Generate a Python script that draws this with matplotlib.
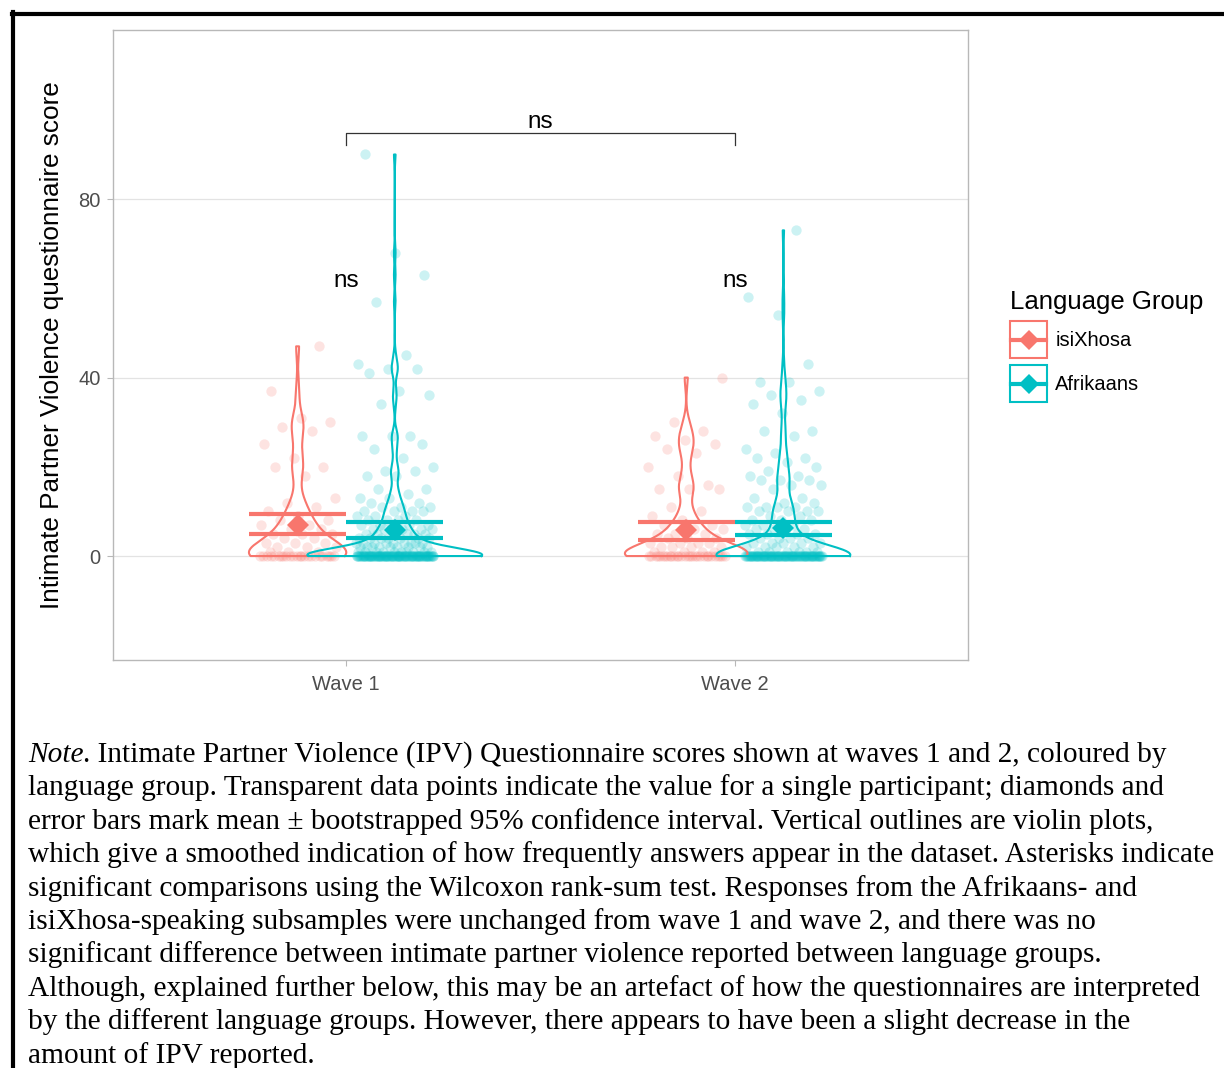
import numpy as np
import matplotlib
matplotlib.use("Agg")
import matplotlib.pyplot as plt
from matplotlib.patches import Rectangle
from matplotlib.lines import Line2D

plt.rcParams['font.family'] = ['Liberation Sans', 'DejaVu Sans']

# ---- data ----
waves = ["Wave 1", "Wave 2"]
groups = ["isiXhosa", "Afrikaans"]
colours = ["#F8766D", "#00BFC4"]

# individual IPV scores per group and wave
xho_w1 = ([0] * 24 + [1] * 3 + [2] * 3 + [3] * 3 + [4] * 2 + [5] * 3 + [6] * 2 + [7] * 2 + [8] * 2 + [9]
          + [10, 11, 12, 13, 18, 20, 20, 22, 25, 28, 29, 30, 31, 37, 47])
xho_w2 = ([0] * 30 + [1] * 4 + [2] * 4 + [3] * 4 + [4] * 3 + [5] * 3 + [6] * 2 + [7] * 2
          + [8, 9, 10, 11, 15, 15, 15, 16, 18, 20, 23, 24, 25, 26, 27, 28, 30, 40])
afr_w1 = ([0] * 95 + [1] * 10 + [2] * 9 + [3] * 9 + [4] * 7 + [5] * 6 + [6] * 6
          + [7] * 4 + [8] * 4 + [9] * 3 + [10] * 4 + [11] * 3
          + [12, 12, 13, 13, 14, 15, 15, 18, 18, 19, 19, 20, 22, 24, 25, 27, 27, 27,
             34, 36, 37, 41, 42, 42, 43, 45, 57, 63, 68, 90])
afr_w2 = ([0] * 88 + [1] * 6 + [2] * 5 + [3] * 5 + [4] * 4 + [5] * 4 + [6] * 4 + [7] * 3 + [8] * 3 + [9] * 2
          + [10, 10, 10, 10, 11, 11, 11, 11, 12, 12, 13, 13, 15, 16, 16, 17, 17, 17, 18, 18,
             19, 20, 21, 22, 22, 23, 24, 27, 28, 28, 32, 34, 35, 36, 37, 39, 39, 43, 54, 58, 73])

scores = {"isiXhosa": [xho_w1, xho_w2], "Afrikaans": [afr_w1, afr_w2]}

# mean and bootstrapped 95% CI
means = {"isiXhosa": [7.0, 5.8], "Afrikaans": [5.8, 6.2]}
ci_lo = {"isiXhosa": [4.9, 3.7], "Afrikaans": [4.1, 4.7]}
ci_hi = {"isiXhosa": [9.4, 7.7], "Afrikaans": [7.6, 7.7]}

caption = [
    ". Intimate Partner Violence (IPV) Questionnaire scores shown at waves 1 and 2, coloured by",
    "language group. Transparent data points indicate the value for a single participant; diamonds and",
    "error bars mark mean \u00b1 bootstrapped 95% confidence interval. Vertical outlines are violin plots,",
    "which give a smoothed indication of how frequently answers appear in the dataset. Asterisks indicate",
    "significant comparisons using the Wilcoxon rank-sum test. Responses from the Afrikaans- and",
    "isiXhosa-speaking subsamples were unchanged from wave 1 and wave 2, and there was no",
    "significant difference between intimate partner violence reported between language groups.",
    "Although, explained further below, this may be an artefact of how the questionnaires are interpreted",
    "by the different language groups. However, there appears to have been a slight decrease in the",
    "amount of IPV reported.",
]


def nrd0(x):
    # R's default bandwidth
    hi = x.std(ddof=1)
    q75, q25 = np.percentile(x, [75, 25])
    lo = min(hi, (q75 - q25) / 1.34)
    if lo == 0:
        lo = hi
    return 0.9 * lo * len(x) ** -0.2


def kde(x):
    x = np.asarray(x, float)
    bw = nrd0(x)
    yy = np.linspace(x.min(), x.max(), 512)
    d = np.exp(-0.5 * ((yy[:, None] - x[None, :]) / bw) ** 2).sum(1)
    d /= len(x) * bw * np.sqrt(2 * np.pi)
    return yy, d


class KeyHandler:
    # box + errorbar line + diamond, all centred in the key
    def legend_artist(self, legend, orig_handle, fontsize, handlebox):
        col = orig_handle.get_edgecolor()
        x0, y0 = -handlebox.xdescent, -handlebox.ydescent
        w, h = handlebox.width, handlebox.height
        box = Rectangle((x0, y0), w, h, facecolor='white', edgecolor=col, lw=1.5,
                        transform=handlebox.get_transform())
        ln = Line2D([x0 + 1, x0 + w - 1], [y0 + h / 2] * 2, color=col, lw=3,
                    transform=handlebox.get_transform())
        dm = Line2D([x0 + w / 2], [y0 + h / 2], marker='D', markersize=10, color=col,
                    markeredgewidth=0, transform=handlebox.get_transform())
        for a in (box, ln, dm):
            handlebox.add_artist(a)
        return box


W, H = 1224, 1068
fig = plt.figure(figsize=(W / 100, H / 100), dpi=100)
ax = fig.add_axes([113 / W, 1 - 660 / H, (968 - 113) / W, (660 - 30) / H])

dodge = {"isiXhosa": -0.125, "Afrikaans": 0.125}
dens = {(g, i): kde(scores[g][i]) for g in groups for i in range(2)}
dmax = max(d.max() for _, d in dens.values())

# jittered points
for g, col in zip(groups, colours):
    for i in range(2):
        v = np.asarray(scores[g][i], float)
        k = np.arange(len(v))
        jit = 0.1 * (2 * ((k * 0.618034 + 0.31) % 1) - 1)
        ax.scatter(i + 1 + dodge[g] + jit, v, s=55, color=col, alpha=0.2,
                   linewidths=0, zorder=2)

# violins
for g, col in zip(groups, colours):
    for i in range(2):
        yy, d = dens[(g, i)]
        hw = 0.225 * d / dmax
        c = i + 1 + dodge[g]
        xs = np.concatenate([c + hw, (c - hw)[::-1], [c + hw[0]]])
        ys = np.concatenate([yy, yy[::-1], [yy[0]]])
        ax.plot(xs, ys, color=col, lw=1.5, zorder=3)

# mean +/- CI
for g, col in zip(groups, colours):
    for i in range(2):
        c = i + 1 + dodge[g]
        ax.plot([c - 0.125, c + 0.125], [ci_lo[g][i]] * 2, color=col, lw=3, zorder=4,
                solid_capstyle='butt')
        ax.plot([c - 0.125, c + 0.125], [ci_hi[g][i]] * 2, color=col, lw=3, zorder=4,
                solid_capstyle='butt')
        ax.plot([c, c], [ci_lo[g][i], ci_hi[g][i]], color=col, lw=3, zorder=4)
        ax.plot(c, means[g][i], marker='D', markersize=11, color=col, zorder=5,
                markeredgewidth=0)

# significance annotations
ax.plot([1, 1, 2, 2], [92.1, 94.8, 94.8, 92.1], color='#333333', lw=0.9, zorder=6)
ax.text(1.5, 96.0, "ns", ha='center', va='baseline', fontsize=17.5)
for i in range(2):
    ax.text(i + 1, 60.3, "ns", ha='center', va='baseline', fontsize=17.5)

ax.set_xlim(0.4, 2.6)
ax.set_ylim(-23.3, 117.9)
ax.set_xticks([1, 2])
ax.set_xticklabels(waves)
ax.set_yticks([0, 40, 80])
ax.grid(axis='y', color='#E3E3E3', lw=0.9)
ax.set_axisbelow(True)
for sp in ax.spines.values():
    sp.set_color('#B8B8B8')
    sp.set_linewidth(1.0)
ax.tick_params(length=4, width=0.8, color='#B8B8B8', labelcolor='#4D4D4D',
               labelsize=14.5)
ax.tick_params(axis='x', pad=7)
ax.tick_params(axis='y', pad=5)
ax.set_ylabel("Intimate Partner Violence questionnaire score", fontsize=18.8,
              color='black', va='center')
ax.yaxis.set_label_coords((52 - 113) / 855, 0.5)

# legend
handles = [Rectangle((0, 0), 1, 1, facecolor='white', edgecolor=col) for col in colours]
fig.legend(handles, groups, title="Language Group", loc='upper left',
           bbox_to_anchor=(1010 / W, 1 - 290 / H), frameon=False,
           handler_map={Rectangle: KeyHandler()},
           handlelength=1.85, handleheight=2.45, fontsize=14.5, title_fontsize=18.5,
           alignment='left', handletextpad=0.4, labelspacing=0.35, borderaxespad=0,
           borderpad=0)

# caption
x0 = 28 / W
base0, pitch, fs = 762, 33.4, 21.2
t = fig.text(x0, 1 - base0 / H, "Note", family='Liberation Serif', style='italic',
             fontsize=fs, va='baseline')
r = fig.canvas.get_renderer()
wpx = t.get_window_extent(r).width
fig.text(x0 + wpx / W, 1 - base0 / H, caption[0], family='Liberation Serif',
         fontsize=fs, va='baseline')
for n, line in enumerate(caption[1:], start=1):
    fig.text(x0, 1 - (base0 + n * pitch) / H, line, family='Liberation Serif',
             fontsize=fs, va='baseline')

# page border
fig.add_artist(Line2D([12 / W, 1], [1 - 14 / H] * 2, color='black', lw=3,
                      transform=fig.transFigure))
fig.add_artist(Line2D([13 / W] * 2, [1 - 12 / H, 0], color='black', lw=3,
                      transform=fig.transFigure))

fig.savefig("out.png", dpi=100)
